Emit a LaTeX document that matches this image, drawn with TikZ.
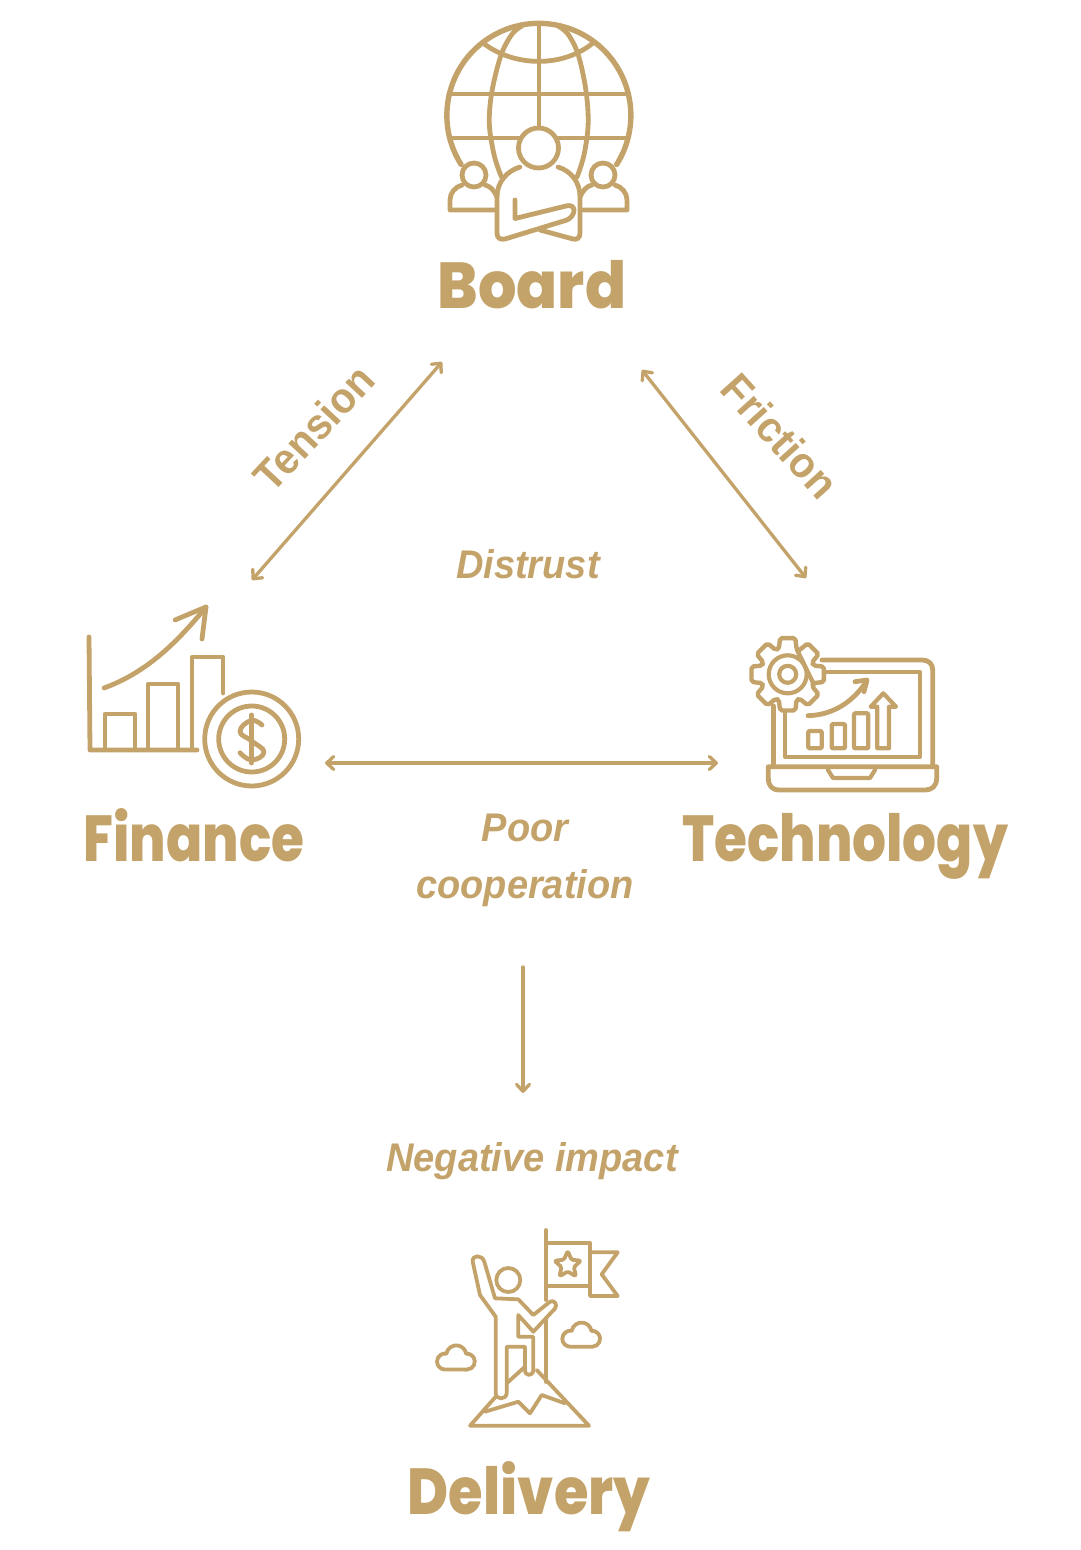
\documentclass[tikz,border=0pt]{standalone}
\usepackage{fontspec}
\usetikzlibrary{arrows.meta,calc}
\newfontfamily\headfont{Poppins ExtraBold}
\newfontfamily\labfont[FakeStretch=0.95]{Liberation Sans}
\definecolor{gold}{RGB}{196,163,106}
\tikzset{
 x=1pt,y=-1pt,
 icon/.style={draw=gold,line width=4.8pt,line cap=round,line join=round},
 iconthin/.style={draw=gold,line width=3.8pt,line cap=round,line join=round},
 head/.style={text=gold,font=\headfont\fontsize{65}{65}\selectfont,anchor=base,inner sep=0pt},
 lab/.style={text=gold,font=\labfont\bfseries\itshape\fontsize{40}{57}\selectfont,inner sep=0pt},
 labup/.style={text=gold,font=\labfont\bfseries\fontsize{43}{57}\selectfont,inner sep=0pt},
 link/.style={draw=gold,line width=3.3pt,line cap=round,{Straight Barb[length=7pt,width=13pt,round]}-{Straight Barb[length=7pt,width=13pt,round]}},
 linkone/.style={draw=gold,line width=3.3pt,line cap=round,-{Straight Barb[length=7pt,width=13pt,round]}},
}
\newcommand{\cloudat}[2]{\begin{scope}[shift={(#1,#2)}]
 \draw[iconthin] (8,25) arc[start angle=-90,end angle=-280,radius=8pt] arc[start angle=170,end angle=10,radius=10pt] arc[start angle=95,end angle=-90,radius=8pt] -- cycle;
\end{scope}}
\begin{document}
\begin{tikzpicture}
\useasboundingbox (0,0) rectangle (1080,1550);
% ---- Board icon
\draw[icon,line width=5.4pt] (461.1,164.5) arc[start angle=212.3,end angle=-32.3,radius=92pt];
\draw[icon] plot[smooth,tension=0.7] coordinates {(522,26) (510,37) (498,65) (489.5,112) (493,150) (501.5,177)};
\draw[icon] plot[smooth,tension=0.7] coordinates {(558,26) (570,37) (581,65) (588,112) (585,150) (577,177)};
\draw[icon] (539,25) -- (539,127);
\draw[icon] (449,94) -- (628,94);
\draw[icon] (450,138) -- (520,138) (558,138) -- (627,138);
\draw[icon] (483,43) .. controls (515,67.5) and (563,67.5) .. (593,43);
\draw[icon] (538.5,148) circle[radius=20pt];
\draw[icon] (520,167) .. controls (507,171) and (497,182) .. (497,197) -- (497,233) .. controls (497,238) and (500,240) .. (505,239) -- (567,220) .. controls (576,216) and (577,203) .. (566,206) -- (515,218.5) -- (515,200);
\draw[icon] (558,167) .. controls (571,171) and (580,182) .. (580,197) -- (580,233) .. controls (580,238) and (577,240) .. (573,239) -- (540,230);
\draw[icon] (474,175) circle[radius=12pt];
\draw[icon] (603,175) circle[radius=12pt];
\draw[icon] (462,185) .. controls (455,187) and (450,193) .. (450,200) -- (450,210) -- (495,210);
\draw[icon] (485,185) .. controls (490,186) and (494,190) .. (497,197);
\draw[icon] (592,185) .. controls (587,186) and (583,190) .. (580,197);
\draw[icon] (615,185) .. controls (622,187) and (627,193) .. (627,200) -- (627,210) -- (583,210);
% ---- Finance icon
\draw[icon] (89,637) -- (90,750) -- (197,750);
\draw[icon] (105,749) -- (105,714) -- (135,714) -- (135,749);
\draw[icon] (148,749) -- (148,684) -- (178,684) -- (178,749);
\draw[icon] (192,749) -- (192,657) -- (223,657) -- (223,693);
\draw[icon] (104,688) .. controls (145,673) and (175,645) .. (206,607);
\draw[icon] (175,620) -- (206,607) -- (202,639);
\draw[icon] (251.7,739) circle[radius=47pt];
\draw[icon] (251.7,739) circle[radius=33pt];
\draw[icon] (251.7,715) -- (251.7,763);
\draw[icon] plot[smooth,tension=0.8] coordinates {(262,725) (251,720.5) (240,731.5) (251.7,741) (264,752) (251.7,760) (240,752.7)};
% ---- Technology icon
\coordinate (g) at (787.7,674.3);
\draw[icon,line width=4.4pt,rounded corners=2pt]
 ($(g)+(-19:27pt)$) \foreach \a in {0,45,...,315}{
   -- ($(g)+(\a+90-19:27pt)$) -- ($(g)+(\a+90-12:37pt)$) -- ($(g)+(\a+90+12:37pt)$) -- ($(g)+(\a+90+19:27pt)$)
 };
\draw[iconthin,line width=4.2pt] (g) circle[radius=19pt];
\draw[iconthin,line width=4.2pt] (g) circle[radius=8.5pt];
\draw[icon] (822,660) -- (922,660) .. controls (929,660) and (932.7,664) .. (932.7,670) -- (932.7,766.7);
\draw[icon] (773.3,706) -- (773.3,766.7);
\draw[iconthin,line width=4.2pt] (824,672) -- (920,672) -- (920,757) -- (785,757) -- (785,712);
\draw[icon] (768.3,766.7) -- (936.7,766.7) -- (936.7,778) .. controls (936.7,786) and (932,790) .. (925,790) -- (780,790) .. controls (772,790) and (768.3,786) .. (768.3,778) -- cycle;
\draw[iconthin,line width=4.2pt] (828,770) -- (833,778) -- (870,778) -- (875,770);
\draw[icon] (808,715.7) .. controls (832,715) and (852,703) .. (866,682);
\draw[icon] (855,681.7) -- (867,680) -- (864,691.7);
\draw[iconthin,line width=4.2pt,rounded corners=1pt] (808.3,731) rectangle (821.7,748.3);
\draw[iconthin,line width=4.2pt,rounded corners=1pt] (831.7,724) rectangle (845,748.3);
\draw[iconthin,line width=4.2pt,rounded corners=1pt] (854,713.3) rectangle (868.3,748.3);
\draw[iconthin,line width=4.2pt] (877.3,748.3) -- (877.3,706.7) -- (870.7,706.7) -- (883.3,693.3) -- (896,706.7) -- (889,706.7) -- (889,748.3) -- cycle;
% ---- Delivery icon
\draw[iconthin] (546,1230) -- (546,1300) (546,1320) -- (546,1382);
\draw[iconthin] (546,1242.7) -- (590,1242.7) -- (590,1285.7) -- (546,1285.7);
\draw[iconthin] (590,1252.3) -- (617.7,1252.3) -- (601.7,1274.3) -- (617.7,1296) -- (590,1296) -- (590,1285.7);
\coordinate (st) at (567.7,1265);
\draw[iconthin,rounded corners=1.5pt] ($(st)+(90:14pt)$) -- ($(st)+(126:6.5pt)$) -- ($(st)+(162:14pt)$) -- ($(st)+(198:6.5pt)$) -- ($(st)+(234:14pt)$) -- ($(st)+(270:6.5pt)$) -- ($(st)+(306:14pt)$) -- ($(st)+(342:6.5pt)$) -- ($(st)+(18:14pt)$) -- ($(st)+(54:6.5pt)$) -- cycle;
\draw[iconthin] (508.3,1280) circle[radius=12pt];
\draw[iconthin] (495.7,1316.7) -- (480,1295) -- (472.7,1261.7) .. controls (471.5,1255) and (482,1254) .. (484.3,1261.7) -- (495,1298.3) -- (518.3,1299.3) -- (533.3,1315) -- (550,1301.7) .. controls (554,1299) and (558,1305) .. (555,1308.5) -- (533.3,1331.7) -- (518.3,1315) -- (518.3,1336.7) -- (533.3,1336.7) -- (533.3,1370) .. controls (533,1376.5) and (525,1376.5) .. (525,1370) -- (525,1346.7) -- (506.7,1346.7) -- (506.7,1393.3) .. controls (506,1400) and (496,1400) .. (495.7,1393.3) -- cycle;
\draw[iconthin] (495.7,1396.7) -- (470,1425.7) -- (589,1425.7) -- (536.7,1370);
\draw[iconthin] (506.7,1383.3) -- (525,1366.7);
\draw[iconthin] (485,1411.7) -- (518.3,1401.7) -- (530,1413.3) -- (541.7,1395) -- (565,1403.3);
\cloudat{562.3}{1321.7}
\cloudat{437}{1344.5}
% ---- Headings
\node[head] (board) at (532,308) {\scalebox{.93}[1]{Board}};
\node[head] (finance) at (194,861) {\scalebox{.82}[1]{Finance}};
\node[head] (technology) at (845,861) {\scalebox{.82}[1]{Technology}};
\node[head] (delivery) at (529,1514) {\scalebox{.86}[1]{Delivery}};
% ---- Labels
\node[labup,rotate=47] (tension) at (314,428) {Tension};
\node[labup,rotate=-48] (friction) at (780,436) {Friction};
\node[lab] (distrust) at (528,564) {Distrust};
\node[lab,align=center] (poor) at (525,860) {Poor\\cooperation};
\node[lab] (negative) at (532,1161) {Negative impact};
% ---- Connectors
\coordinate (tfin) at (252,580);
\coordinate (tboard) at (442,362);
\coordinate (fboard) at (642,370);
\coordinate (ftech) at (806,578);
\coordinate (hfin) at (325,763);
\coordinate (htech) at (718,763);
\coordinate (dtop) at (523,967);
\coordinate (dbot) at (523,1093);
\draw[link] (tfin) -- (tboard);
\draw[link] (fboard) -- (ftech);
\draw[link] (hfin) -- (htech);
\draw[linkone] (dtop) -- (dbot);
\end{tikzpicture}
\end{document}
